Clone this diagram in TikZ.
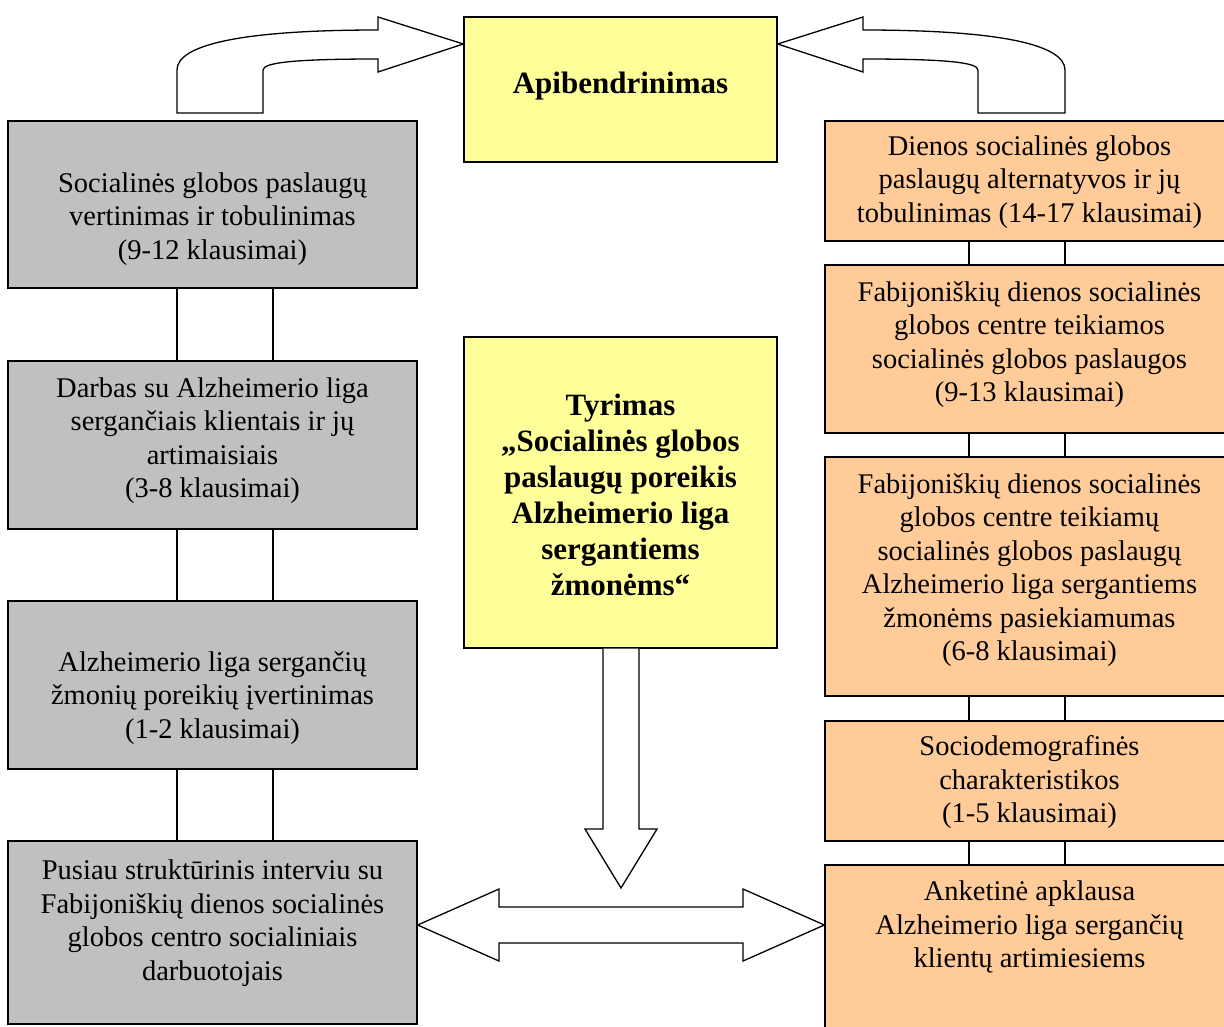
\documentclass[tikz,border=0pt]{standalone}
\usepackage{fontspec}
\setmainfont{Liberation Serif}
\definecolor{boxgray}{HTML}{C0C0C0}
\definecolor{boxyellow}{HTML}{FFFF99}
\definecolor{boxorange}{HTML}{FFCC99}
\tikzset{
  box/.style={draw, line width=1.3pt, inner sep=0pt, minimum width=409pt},
  gbox/.style={box, fill=boxgray},
  obox/.style={box, fill=boxorange},
  ybox/.style={box, fill=boxyellow, minimum width=313pt},
  txt/.style={align=center, inner sep=0pt, font=\fontsize{28.5}{33.5}\selectfont},
  btxt/.style={align=center, inner sep=0pt, font=\fontsize{31}{36}\selectfont\bfseries},
  blockarrow/.style={draw, line width=1.3pt, fill=white, line join=miter},
  link/.style={line width=1.3pt}
}
\begin{document}
\begin{tikzpicture}[x=1pt,y=-1pt]
\useasboundingbox (0,0) rectangle (1224,1026);
\clip (0,0) rectangle (1224,1026);

% left column
\node[gbox, minimum height=167pt] (L1) at (212.5,204.5) {};
\node[gbox, minimum height=168pt] (L2) at (212.5,445) {};
\node[gbox, minimum height=168pt] (L3) at (212.5,685) {};
\node[gbox, minimum height=183pt] (L4) at (212.5,932.5) {};
\node[txt] (L1t) at (212.5,219) {Socialinės globos paslaugų\\vertinimas ir tobulinimas\\(9-12 klausimai)};
\node[txt] (L2t) at (212.5,440.5) {Darbas su Alzheimerio liga\\sergančiais klientais ir jų\\artimaisiais\\(3-8 klausimai)};
\node[txt] (L3t) at (212.5,698) {Alzheimerio liga sergančių\\žmonių poreikių įvertinimas\\(1-2 klausimai)};
\node[txt] (L4t) at (212.5,923) {Pusiau struktūrinis interviu su\\Fabijoniškių dienos socialinės\\globos centro socialiniais\\darbuotojais};

% centre column
\node[ybox, minimum height=145pt] (A) at (620.5,89.5) {};
\node[btxt] (At) at (620.5,86) {Apibendrinimas};
\node[ybox, minimum height=311pt] (T) at (620.5,492.5) {};
\node[btxt] (Tt) at (620.5,494.5) {Tyrimas\\„Socialinės globos\\paslaugų poreikis\\Alzheimerio liga\\sergantiems\\žmonėms“};

% right column
\node[obox, minimum height=120pt] (R1) at (1029.5,181) {};
\node[obox, minimum height=168pt] (R2) at (1029.5,349) {};
\node[obox, minimum height=239pt] (R3) at (1029.5,576.5) {};
\node[obox, minimum height=120pt] (R4) at (1029.5,781) {};
\node[obox, minimum height=180pt] (R5) at (1029.5,955) {};
\node[txt] (R1t) at (1029.5,182) {Dienos socialinės globos\\paslaugų alternatyvos ir jų\\tobulinimas (14-17 klausimai)};
\node[txt] (R2t) at (1029.5,344.5) {Fabijoniškių dienos socialinės\\globos centre teikiamos\\socialinės globos paslaugos\\(9-13 klausimai)};
\node[txt] (R3t) at (1029.5,570.3) {Fabijoniškių dienos socialinės\\globos centre teikiamų\\socialinės globos paslaugų\\Alzheimerio liga sergantiems\\žmonėms pasiekiamumas\\(6-8 klausimai)};
\node[txt] (R4t) at (1029.5,782) {Sociodemografinės\\charakteristikos\\(1-5 klausimai)};
\node[txt] (R5t) at (1029.5,927) {Anketinė apklausa\\Alzheimerio liga sergančių\\klientų artimiesiems};

% connector columns
\coordinate (xl1) at (177,0);
\coordinate (xl2) at (273,0);
\coordinate (xr1) at (969,0);
\coordinate (xr2) at (1065,0);
\foreach \a/\b in {L1/L2,L2/L3,L3/L4}{
  \draw[link] (\a.south -| xl1) -- (\b.north -| xl1);
  \draw[link] (\a.south -| xl2) -- (\b.north -| xl2);
}
\foreach \a/\b in {R1/R2,R2/R3,R3/R4,R4/R5}{
  \draw[link] (\a.south -| xr1) -- (\b.north -| xr1);
  \draw[link] (\a.south -| xr2) -- (\b.north -| xr2);
}

% curved block arrows to Apibendrinimas
\draw[blockarrow] (177,113) -- (177,70) .. controls (177,45) and (240,30) .. (378,30)
  -- (378,17) -- (A.west |- 0,44) -- (378,72) -- (378,59)
  .. controls (300,59) and (263,62) .. (263,70) -- (263,113) -- cycle;
\draw[blockarrow] (1065,113) -- (1065,70) .. controls (1065,45) and (1001.5,30) .. (863,30)
  -- (863,17) -- (A.east |- 0,44) -- (863,72) -- (863,59)
  .. controls (941.5,59) and (978,62) .. (978,70) -- (978,113) -- cycle;

% down arrow from Tyrimas
\draw[blockarrow] (T.south -| 603,0) -- (603,829) -- (585,829) -- (621,888)
  -- (657,829) -- (639,829) -- (T.south -| 639,0);

% double arrow
\draw[blockarrow] (L4.east |- 0,925) -- (499,889) -- (499,907) -- (743,907) -- (743,889)
  -- (R5.west |- 0,925) -- (743,961) -- (743,943) -- (499,943) -- (499,961) -- cycle;
\end{tikzpicture}
\end{document}
